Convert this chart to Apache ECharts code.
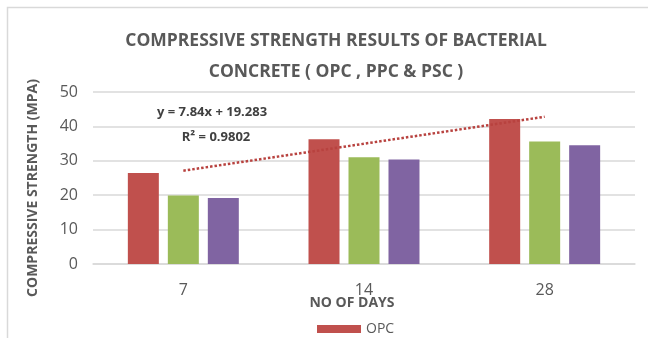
<!DOCTYPE html>
<html>
<head>
<meta charset="utf-8">
<script src="https://cdn.jsdelivr.net/npm/echarts@6/dist/echarts.min.js"></script>
<style>
  html, body { margin: 0; padding: 0; background: #ffffff; }
  #chart { width: 648px; height: 338px; }
</style>
</head>
<body>
<div id="chart"></div>
<script>
// Curing age (days) on the x axis
const days = ['7', '14', '28'];

// Compressive strength (MPa) for each cement type
const opc = [26.48, 36.25, 42.16];
const ppc = [19.9, 31.0, 35.6];
const psc = [19.2, 30.4, 34.5];

// Linear trend fitted to the OPC series (x = 1, 2, 3)
const trendSlope = 7.84;
const trendIntercept = 19.283;
const trendR2 = 0.9802;
const trend = days.map((d, i) => +(trendSlope * (i + 1) + trendIntercept).toFixed(3));

const yTicks = { min: 0, max: 50, interval: 10 };

const FONT = '"Open Sans", "Noto Sans", sans-serif';
const TEXT = '#595959';

const chart = echarts.init(document.getElementById('chart'), null, { renderer: 'canvas' });

chart.setOption({
  backgroundColor: '#ffffff',
  animation: false,
  title: {
    text: 'COMPRESSIVE STRENGTH RESULTS OF BACTERIAL\nCONCRETE ( OPC , PPC & PSC )',
    left: 331,
    textAlign: 'center',
    top: 21,
    textStyle: {
      fontFamily: FONT,
      fontSize: 17.5,
      fontWeight: 'bold',
      color: TEXT,
      lineHeight: 31
    }
  },
  legend: {
    data: ['OPC'],
    left: 312,
    top: 317,
    icon: 'rect',
    itemWidth: 44,
    itemHeight: 8,
    itemGap: 10,
    textStyle: { fontFamily: FONT, fontSize: 14, color: TEXT }
  },
  grid: { left: 93, right: 13, top: 92, bottom: 74 },
  xAxis: {
    type: 'category',
    data: days,
    axisLine: { show: true, lineStyle: { color: '#d9d9d9', width: 1.5 } },
    axisTick: { show: false },
    axisLabel: { fontFamily: FONT, fontSize: 16, color: TEXT, margin: 18 }
  },
  yAxis: {
    type: 'value',
    min: yTicks.min,
    max: yTicks.max,
    interval: yTicks.interval,
    axisLine: { show: false },
    axisTick: { show: false },
    axisLabel: { fontFamily: FONT, fontSize: 16, color: TEXT, margin: 15 },
    splitLine: { lineStyle: { color: '#d9d9d9', width: 1.5 } }
  },
  series: [
    { name: 'OPC', type: 'bar', data: opc, barWidth: 31, barGap: '29%', itemStyle: { color: '#c0504d' } },
    { name: 'PPC', type: 'bar', data: ppc, barWidth: 31, barGap: '29%', itemStyle: { color: '#9bbb59' } },
    { name: 'PSC', type: 'bar', data: psc, barWidth: 31, barGap: '29%', itemStyle: { color: '#8064a2' } },
    {
      name: 'Linear (OPC)',
      type: 'line',
      data: trend,
      symbol: 'none',
      z: 5,
      lineStyle: { color: '#b8423f', width: 2.5, type: [2.5, 2] }
    }
  ],
  graphic: [
    {
      type: 'rect',
      silent: true,
      shape: { x: 7.5, y: 7.5, width: 700, height: 400 },
      style: { fill: 'none', stroke: '#d9d9d9', lineWidth: 1.5 }
    },
    {
      // y-axis title
      type: 'text',
      x: 33, y: 188,
      rotation: Math.PI / 2,
      style: {
        text: 'COMPRESSIVE STRENGTH (MPA)',
        fontFamily: FONT, fontSize: 14, fontWeight: 'bold', fill: TEXT,
        align: 'center', verticalAlign: 'middle'
      }
    },
    {
      // x-axis title
      type: 'text',
      x: 352, y: 303,
      style: {
        text: 'NO OF DAYS',
        fontFamily: FONT, fontSize: 14, fontWeight: 'bold', fill: TEXT,
        align: 'center', verticalAlign: 'middle'
      }
    },
    {
      type: 'text',
      x: 212, y: 112,
      style: {
        text: 'y = ' + trendSlope + 'x + ' + trendIntercept,
        fontFamily: FONT, fontSize: 13, fontWeight: 'bold', fill: '#404040',
        align: 'center', verticalAlign: 'middle'
      }
    },
    {
      type: 'text',
      x: 216, y: 137,
      style: {
        text: 'R² = ' + trendR2,
        fontFamily: FONT, fontSize: 13, fontWeight: 'bold', fill: '#404040',
        align: 'center', verticalAlign: 'middle'
      }
    }
  ]
});
</script>
</body>
</html>
